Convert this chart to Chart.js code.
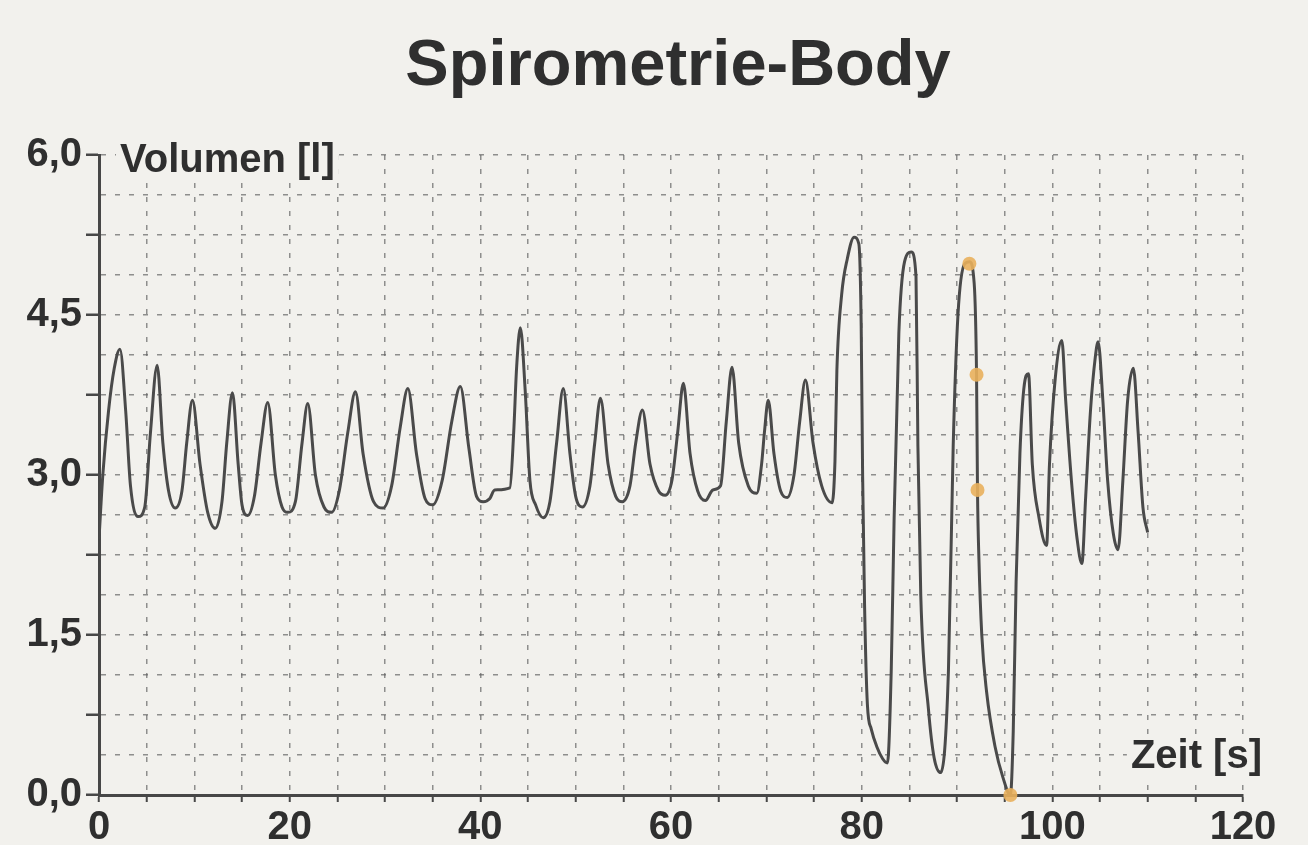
<!DOCTYPE html>
<html lang="de">
<head>
<meta charset="UTF-8">
<title>Spirometrie-Body</title>
<script src="https://cdn.jsdelivr.net/npm/chart.js"></script>
<style>
  html, body { margin: 0; padding: 0; background: #f2f1ed; }
  #wrap { width: 1308px; height: 845px; }
</style>
</head>
<body>
<div id="wrap"><canvas id="spiro" width="1308" height="845"></canvas></div>
<script>
// Messkurve: Zeit [s] / Volumen [l]
const timeS = [
  0.0, 0.4, 1.0, 1.6, 2.2, 2.8, 3.3, 4.1, 4.8,
  5.4, 6.1, 6.7, 7.3, 8.0, 8.7,
  9.2, 9.8, 10.6, 11.4, 12.2, 12.9,
  13.4, 14.0, 14.6, 15.0, 15.6, 16.3,
  17.0, 17.7, 18.5, 19.2, 19.8, 20.6,
  21.3, 21.9, 22.7, 23.6, 24.4, 25.2,
  26.1, 26.9, 27.7, 28.8, 29.8, 30.7,
  31.6, 32.4, 33.3, 34.2, 35.0, 36.0,
  37.0, 37.9, 38.8, 39.6, 40.3, 41.0, 41.5, 43.1,
  43.5, 43.8, 44.2, 44.7, 45.2, 45.8, 46.6, 47.3,
  48.0, 48.7, 49.4, 50.0, 50.7, 51.5,
  52.0, 52.6, 53.4, 54.2, 54.9, 55.7,
  56.3, 57.0, 57.8, 58.7, 59.4, 60.1,
  60.7, 61.3, 62.0, 62.8, 63.6, 64.4, 65.2,
  65.8, 66.4, 67.1, 68.1, 69.0, 69.5,
  69.8, 70.2, 70.8, 71.5, 72.2, 72.9,
  73.5, 74.1, 74.9, 75.8, 76.9,
  77.2, 77.4, 77.9, 78.5, 79.2, 79.7, 79.95, 80.1, 80.3, 80.6, 81.0, 81.6, 82.2, 82.7,
  83.1, 83.4, 83.9, 84.5, 85.2, 85.7, 85.9, 86.2, 87.0, 87.6, 88.3,
  89.1, 89.6, 90.1, 90.8, 91.3, 91.8, 92.05, 92.15, 92.3, 92.6, 93.1, 94.0, 94.8, 95.6,
  95.9, 96.2, 96.6, 97.0, 97.5, 97.9, 98.6, 99.4,
  99.7, 100.3, 101.0, 101.4, 102.0, 102.6, 103.1,
  103.5, 104.0, 104.5, 104.8, 105.3, 105.8, 106.4, 106.9,
  107.4, 107.9, 108.5, 109.0, 109.5, 110.0
];
const volumeL = [
  2.40, 3.00, 3.60, 4.00, 4.18, 3.60, 2.90, 2.61, 2.70,
  3.40, 4.03, 3.30, 2.85, 2.69, 2.85,
  3.30, 3.70, 3.10, 2.65, 2.50, 2.75,
  3.30, 3.77, 3.10, 2.72, 2.62, 2.80,
  3.30, 3.68, 3.00, 2.70, 2.65, 2.75,
  3.30, 3.67, 3.00, 2.70, 2.65, 2.85,
  3.40, 3.78, 3.20, 2.75, 2.69, 2.90,
  3.45, 3.81, 3.20, 2.78, 2.72, 2.95,
  3.50, 3.83, 3.25, 2.80, 2.75, 2.78, 2.86, 2.88,
  3.40, 4.00, 4.38, 3.80, 2.95, 2.72, 2.60, 2.75,
  3.30, 3.81, 3.20, 2.80, 2.70, 2.90,
  3.30, 3.72, 3.10, 2.80, 2.75, 2.90,
  3.30, 3.61, 3.10, 2.85, 2.81, 2.95,
  3.40, 3.86, 3.20, 2.85, 2.76, 2.86, 2.90,
  3.50, 4.01, 3.30, 2.90, 2.83, 3.10,
  3.40, 3.70, 3.20, 2.85, 2.79, 3.00,
  3.50, 3.89, 3.30, 2.90, 2.74,
  3.13, 3.98, 4.69, 5.03, 5.23, 5.17, 4.40, 3.00, 1.80, 0.85, 0.62, 0.45, 0.34, 0.30,
  1.16, 2.57, 4.33, 5.00, 5.09, 4.86, 3.27, 1.87, 0.81, 0.35, 0.21,
  1.16, 3.27, 4.50, 4.98, 5.00, 4.80, 3.94, 2.86, 2.21, 1.50, 0.97, 0.45, 0.17, 0.00,
  0.60, 2.00, 3.20, 3.80, 3.95, 3.10, 2.60, 2.34,
  3.10, 3.90, 4.26, 3.70, 2.95, 2.40, 2.17,
  2.80, 3.60, 4.10, 4.25, 3.70, 2.95, 2.45, 2.30,
  2.95, 3.70, 4.00, 3.40, 2.70, 2.46
];

// markierte Punkte (orange)
const markerTimeS = [91.3, 92.05, 92.15, 95.6];
const markerVolumeL = [4.98, 3.94, 2.86, 0.0];

// beschriftete Achsenwerte
const xLabelValues = [0, 20, 40, 60, 80, 100, 120];
const yLabelValues = [0, 1.5, 3, 4.5, 6];
const yTickMarkStep = 0.75;

const paper = '#f2f1ed';
const ink = '#2f2f2f';
const axisColor = '#474747';
const gridColor = 'rgba(100,100,100,0.7)';
const fontFamily = "'Liberation Sans', Arial, sans-serif";

const lineData = timeS.map((t, i) => ({ x: t, y: volumeL[i] }));
const markerData = markerTimeS.map((t, i) => ({ x: t, y: markerVolumeL[i] }));

// Hintergrund wie Papier
const paperPlugin = {
  id: 'paper',
  beforeDraw(chart) {
    const ctx = chart.ctx;
    ctx.save();
    ctx.fillStyle = paper;
    ctx.fillRect(0, 0, chart.width, chart.height);
    ctx.restore();
  }
};

// Titel und Achsentitel (im Diagramm, mit Papier dahinter)
const textPlugin = {
  id: 'texts',
  beforeDatasetsDraw(chart) {
    const ctx = chart.ctx;
    const area = chart.chartArea;
    const ys = chart.scales.y;
    ctx.save();
    ctx.font = 'bold 40px ' + fontFamily;
    ctx.textBaseline = 'alphabetic';

    let label = 'Volumen [l]';
    let w = ctx.measureText(label).width;
    let x0 = area.left + 21;
    let base = ys.getPixelForValue(6) + 17;
    ctx.fillStyle = paper;
    ctx.fillRect(x0 - 4, base - 32, w + 8, 42);
    ctx.fillStyle = ink;
    ctx.textAlign = 'left';
    ctx.fillText(label, x0, base);

    label = 'Zeit [s]';
    w = ctx.measureText(label).width;
    let x1 = area.right + 19;
    base = ys.getPixelForValue(0.375) + 13;
    ctx.fillStyle = paper;
    ctx.fillRect(x1 - w - 4, base - 32, w + 8, 42);
    ctx.fillStyle = ink;
    ctx.textAlign = 'right';
    ctx.fillText(label, x1, base);

    ctx.font = 'bold 65px ' + fontFamily;
    ctx.textAlign = 'center';
    ctx.fillStyle = ink;
    ctx.fillText('Spirometrie-Body', 678, 85);
    ctx.restore();
  }
};

const isMark = v => Math.abs(v / yTickMarkStep - Math.round(v / yTickMarkStep)) < 1e-6;

new Chart(document.getElementById('spiro'), {
  type: 'line',
  data: {
    datasets: [
      {
        data: markerData,
        showLine: false,
        pointRadius: 7,
        pointBorderWidth: 0,
        pointBackgroundColor: 'rgba(233,176,92,0.9)',
        clip: false,
        order: 0
      },
      {
        data: lineData,
        borderColor: '#4a4a4a',
        borderWidth: 3,
        pointRadius: 0,
        cubicInterpolationMode: 'monotone',
        fill: false,
        order: 1
      }
    ]
  },
  options: {
    responsive: false,
    devicePixelRatio: 1,
    animation: false,
    events: [],
    layout: { padding: { top: 155, right: 65, bottom: 0, left: 0 } },
    plugins: {
      legend: { display: false },
      tooltip: { enabled: false },
      title: { display: false }
    },
    scales: {
      x: {
        type: 'linear',
        min: 0,
        max: 120,
        afterFit: s => { s.height = 50; },
        border: { display: true, color: axisColor, width: 3, dash: [5, 9] },
        grid: {
          color: gridColor,
          lineWidth: 1.5,
          tickColor: axisColor,
          tickWidth: 2,
          tickLength: 7,
          tickBorderDash: []
        },
        ticks: {
          stepSize: 5,
          maxTicksLimit: 40,
          autoSkip: false,
          maxRotation: 0,
          padding: 2,
          color: ink,
          font: { family: fontFamily, size: 40, weight: 'bold' },
          callback: v => xLabelValues.includes(v) ? String(v) : ''
        }
      },
      y: {
        min: 0,
        max: 6,
        afterFit: s => { s.width = 99; },
        border: { display: true, color: axisColor, width: 3, dash: [5, 9] },
        grid: {
          color: gridColor,
          lineWidth: 1.5,
          tickColor: c => isMark(c.tick.value) ? axisColor : 'rgba(0,0,0,0)',
          tickWidth: 2.5,
          tickLength: 13,
          tickBorderDash: []
        },
        ticks: {
          stepSize: 0.375,
          maxTicksLimit: 40,
          autoSkip: false,
          padding: 4,
          color: ink,
          font: { family: fontFamily, size: 40, weight: 'bold' },
          callback: v => yLabelValues.includes(v) ? v.toFixed(1).replace('.', ',') : ''
        }
      }
    }
  },
  plugins: [paperPlugin, textPlugin]
});
</script>
</body>
</html>
